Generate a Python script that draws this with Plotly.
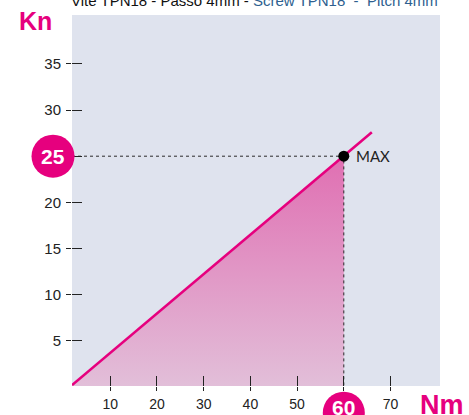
import plotly.graph_objects as go

# Load curve: axial load (Kn) against torque (Nm)
torque = [1.8, 60, 66]
load = [0.2, 25, 27.6]
max_torque = 60
max_load = 25

x_ticks = [10, 20, 30, 40, 50, 60, 70]
y_ticks = [5, 10, 15, 20, 25, 30, 35]

PINK = "#e6007e"
BG = "#dfe3ee"
INK = "#222222"
SANS = "Liberation Sans, Arial, sans-serif"

x_range = [1.8, 80.6]
y_range = [0.1, 40.3]

fig = go.Figure()

# shaded area below the curve up to the MAX point
fig.add_trace(go.Scatter(
    x=torque[:2], y=load[:2], mode="lines", line=dict(width=0),
    fill="tozeroy",
    fillgradient=dict(type="vertical",
                      colorscale=[[0, "#e2bfd9"], [1, "#e06fb2"]]),
    hoverinfo="skip", showlegend=False,
))

# guide lines to the MAX point
fig.add_trace(go.Scatter(
    x=[x_range[0], max_torque, max_torque], y=[max_load, max_load, y_range[0]],
    mode="lines", line=dict(color="#2a2a2a", width=1, dash="dot"),
    hoverinfo="skip", showlegend=False,
))

# load line
fig.add_trace(go.Scatter(
    x=torque, y=load, mode="lines", line=dict(color=PINK, width=2.6),
    showlegend=False,
))

# MAX point
fig.add_trace(go.Scatter(
    x=[max_torque], y=[max_load], mode="markers",
    marker=dict(color="black", size=11),
    showlegend=False,
))
fig.add_annotation(text="MAX", x=max_torque, y=max_load, xanchor="left",
                   yanchor="middle", xshift=10, showarrow=False,
                   font=dict(family="Lato, DejaVu Sans, sans-serif", size=15,
                             color=INK))

# secondary axes carrying the short outer part of each tick
fig.add_trace(go.Scatter(x=[None], y=[None], xaxis="x2", yaxis="y2",
                         showlegend=False, hoverinfo="skip"))

axis_common = dict(showgrid=False, zeroline=False, showline=False,
                   ticks="inside", tickwidth=1.3, tickcolor=INK,
                   automargin=False)

fig.update_layout(
    width=469, height=415,
    margin=dict(l=72, r=29, t=15, b=29),
    paper_bgcolor="white", plot_bgcolor=BG,
    xaxis=dict(range=x_range, tickvals=x_ticks,
               ticktext=["" if v == max_torque else str(v) for v in x_ticks],
               ticklen=10,
               tickfont=dict(family=SANS, size=14, color=INK),
               ticklabelstandoff=8, **axis_common),
    yaxis=dict(range=y_range, tickvals=y_ticks,
               ticktext=["" if v == max_load else str(v) for v in y_ticks],
               ticklen=10,
               tickfont=dict(family=SANS, size=15, color=INK),
               ticklabelstandoff=10, **axis_common),
    xaxis2=dict(overlaying="x", matches="x", range=x_range, tickvals=x_ticks,
                ticks="outside", ticklen=4, tickwidth=1.3, tickcolor=INK,
                showticklabels=False, showgrid=False, zeroline=False,
                showline=False, side="bottom", anchor="y2", automargin=False),
    yaxis2=dict(overlaying="y", matches="y", range=y_range, tickvals=y_ticks,
                ticks="outside", ticklen=5, tickwidth=1.3, tickcolor=INK,
                showticklabels=False, showgrid=False, zeroline=False,
                showline=False, side="left", anchor="x2", automargin=False),
)

# badges for the MAX values
fig.add_shape(type="circle", xref="paper", yref="y",
              xsizemode="pixel", ysizemode="pixel",
              xanchor=-0.0516, yanchor=max_load,
              x0=-21.5, x1=21.5, y0=-21.5, y1=21.5,
              fillcolor=PINK, line=dict(width=0), layer="above")
fig.add_shape(type="circle", xref="x", yref="paper",
              xsizemode="pixel", ysizemode="pixel",
              xanchor=max_torque, yanchor=-0.072,
              x0=-21, x1=21, y0=-21, y1=21,
              fillcolor=PINK, line=dict(width=0), layer="above")

fig.add_annotation(text=f"<b>{max_load}</b>", xref="paper", yref="y",
                   x=-0.0516, y=max_load, xanchor="center", yanchor="middle",
                   showarrow=False,
                   font=dict(family=SANS, size=21, color="white"))
fig.add_annotation(text=f"<b>{max_torque}</b>", xref="x", yref="paper",
                   x=max_torque, y=-0.059, xanchor="center", yanchor="middle",
                   showarrow=False,
                   font=dict(family=SANS, size=21, color="white"))

# axis names
fig.add_annotation(text="<b>Kn</b>", xref="paper", yref="paper",
                   x=-0.098, y=0.983, xanchor="center", yanchor="middle",
                   showarrow=False,
                   font=dict(family=SANS, size=25, color=PINK))
fig.add_annotation(text="<b>Nm</b>", xref="paper", yref="paper",
                   x=1.006, y=-0.052, xanchor="center", yanchor="middle",
                   showarrow=False,
                   font=dict(family=SANS, size=27, color=PINK))

# heading
fig.add_annotation(
    text="Vite TPN18 - Passo 4mm - "
         "<span style='color:#2e5f8f'>Screw TPN18&nbsp; -&nbsp; Pitch 4mm</span>",
    xref="paper", yref="paper", x=0.497, y=1.012, xanchor="center",
    yanchor="bottom", showarrow=False,
    font=dict(family=SANS, size=15, color="#111111"))

fig.write_html("out.html")
